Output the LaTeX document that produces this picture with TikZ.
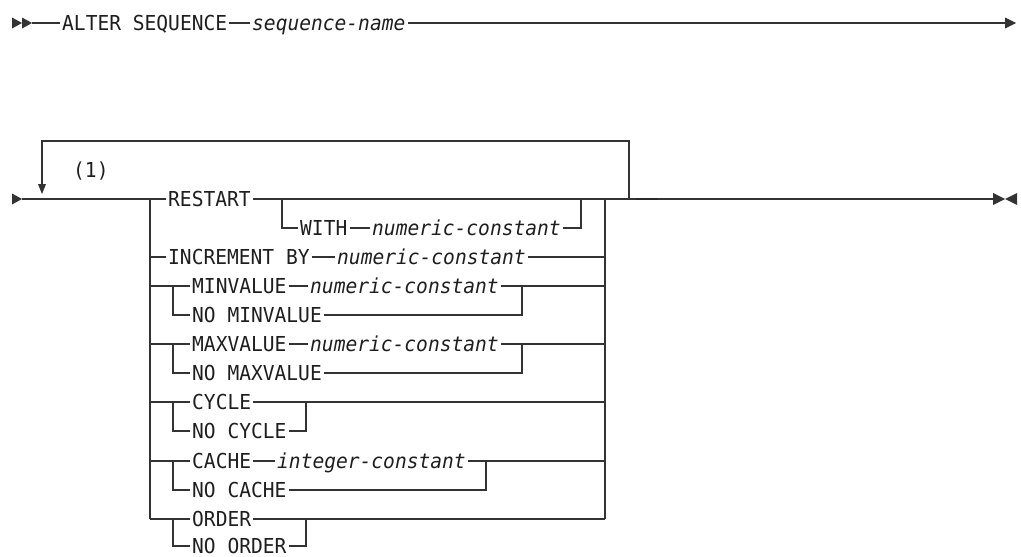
\documentclass[tikz,border=0pt]{standalone}
\usepackage{fontspec}
\newfontfamily\rrfont{DejaVu Sans Mono}[FakeStretch=0.95, ItalicFont={DejaVu Sans Mono Oblique}]
\definecolor{ln}{HTML}{333333}
\definecolor{txt}{HTML}{1E1E1E}
\tikzset{
  kw/.style={font=\rrfont\fontsize{20.6}{24}\selectfont, anchor=west, inner xsep=2pt, inner ysep=0pt, text height=15pt, text depth=0pt, text=txt},
  var/.style={kw, font=\rrfont\itshape\fontsize{20.6}{24}\selectfont},
  rail/.style={line width=1.3pt, draw=ln},
  tipfill/.style={fill=ln, draw=none}
}
\begin{document}
\begin{tikzpicture}[x=1pt,y=-1pt]
\path[use as bounding box] (0,0) rectangle (1021,557);
% ---------- top line ----------
\fill[tipfill] (12,17.5) -- (22,23) -- (12,28.5) -- cycle;
\fill[tipfill] (22,17.5) -- (32,23) -- (22,28.5) -- cycle;
\coordinate (tstart) at (32,23);
\coordinate (tend) at (1005,23);
\node[kw] (alter) at (60,23) {ALTER SEQUENCE};
\node[var] (seqname) at (250,23) {sequence-name};
\draw[rail] (tstart) -- (alter.west);
\draw[rail] (alter.east) -- (seqname.west);
\draw[rail] (seqname.east) -- (tend);
\fill[tipfill] (1005,17.5) -- (1016,23) -- (1005,28.5) -- cycle;
% ---------- main line ----------
\fill[tipfill] (12,193.5) -- (22,199) -- (12,204.5) -- cycle;
\coordinate (mstart) at (22,199);
\coordinate (L) at (150,199);
\coordinate (R) at (605,199);
\coordinate (loopR) at (629,199);
\coordinate (mend) at (993,199);
\coordinate (lpTR) at (629,141);
\coordinate (lpTL) at (42,141);
\coordinate (lpEnd) at (42,185);
\node[kw] (restart) at (166,199) {RESTART};
\draw[rail] (mstart) -- (restart.west);
\draw[rail] (restart.east) -- (R) -- (mend);
\draw[line width=2.4pt, draw=ln!80!black] (636,199) -- (658,199);
\fill[tipfill] (993,193) -- (1005,199) -- (993,205) -- cycle;
\fill[tipfill] (1017,193) -- (1005,199) -- (1017,205) -- cycle;
% loop
\draw[rail] (R) -- (loopR) -- (lpTR) -- (lpTL) -- (lpEnd);
\fill[tipfill] (38,184) -- (46,184) -- (42,194) -- cycle;
\node[kw] (note) at (71,170) {(1)};
% RESTART WITH
\coordinate (rA) at (282,199);
\coordinate (rB) at (581,199);
\node[kw] (with) at (298,228) {WITH};
\node[var] (wnum) at (370,228) {numeric-constant};
\draw[rail] (rA) |- (with.west);
\draw[rail] (with.east) -- (wnum.west);
\draw[rail] (wnum.east) -| (rB);
% outer verticals
\coordinate (Lb) at (150,519);
\coordinate (Rb) at (605,519);
\draw[rail] (L) -- (Lb);
\draw[rail] (R) -- (Rb);
% INCREMENT BY
\node[kw] (inc) at (166,257) {INCREMENT BY};
\node[var] (inum) at (335,257) {numeric-constant};
\draw[rail] (L |- inc.west) -- (inc.west);
\draw[rail] (inc.east) -- (inum.west);
\draw[rail] (inum.east) -- (R |- inum.east);
% MINVALUE
\node[kw] (minv) at (190,286) {MINVALUE};
\node[var] (minnum) at (308,286) {numeric-constant};
\node[kw] (nominv) at (190,315) {NO MINVALUE};
\coordinate (minJ) at (173,286);
\coordinate (minK) at (522,286);
\draw[rail] (L |- minv.west) -- (minv.west);
\draw[rail] (minv.east) -- (minnum.west);
\draw[rail] (minnum.east) -- (R |- minnum.east);
\draw[rail] (minJ) |- (nominv.west);
\draw[rail] (nominv.east) -| (minK);
% MAXVALUE
\node[kw] (maxv) at (190,344) {MAXVALUE};
\node[var] (maxnum) at (308,344) {numeric-constant};
\node[kw] (nomaxv) at (190,373) {NO MAXVALUE};
\coordinate (maxJ) at (173,344);
\coordinate (maxK) at (522,344);
\draw[rail] (L |- maxv.west) -- (maxv.west);
\draw[rail] (maxv.east) -- (maxnum.west);
\draw[rail] (maxnum.east) -- (R |- maxnum.east);
\draw[rail] (maxJ) |- (nomaxv.west);
\draw[rail] (nomaxv.east) -| (maxK);
% CYCLE
\node[kw] (cyc) at (190,402) {CYCLE};
\node[kw] (nocyc) at (190,431) {NO CYCLE};
\coordinate (cycJ) at (173,402);
\coordinate (cycK) at (306,402);
\draw[rail] (L |- cyc.west) -- (cyc.west);
\draw[rail] (cyc.east) -- (R |- cyc.east);
\draw[rail] (cycJ) |- (nocyc.west);
\draw[rail] (nocyc.east) -| (cycK);
% CACHE
\node[kw] (cache) at (190,461) {CACHE};
\node[var] (cnum) at (275,461) {integer-constant};
\node[kw] (nocache) at (190,490) {NO CACHE};
\coordinate (cacJ) at (173,461);
\coordinate (cacK) at (486,461);
\draw[rail] (L |- cache.west) -- (cache.west);
\draw[rail] (cache.east) -- (cnum.west);
\draw[rail] (cnum.east) -- (R |- cnum.east);
\draw[rail] (cacJ) |- (nocache.west);
\draw[rail] (nocache.east) -| (cacK);
% ORDER
\node[kw] (ord) at (190,519) {ORDER};
\node[kw] (noord) at (190,546) {NO ORDER};
\coordinate (ordJ) at (173,519);
\coordinate (ordK) at (306,519);
\draw[rail] (Lb) -- (ord.west);
\draw[rail] (ord.east) -- (Rb);
\draw[rail] (ordJ) |- (noord.west);
\draw[rail] (noord.east) -| (ordK);
\end{tikzpicture}
\end{document}
